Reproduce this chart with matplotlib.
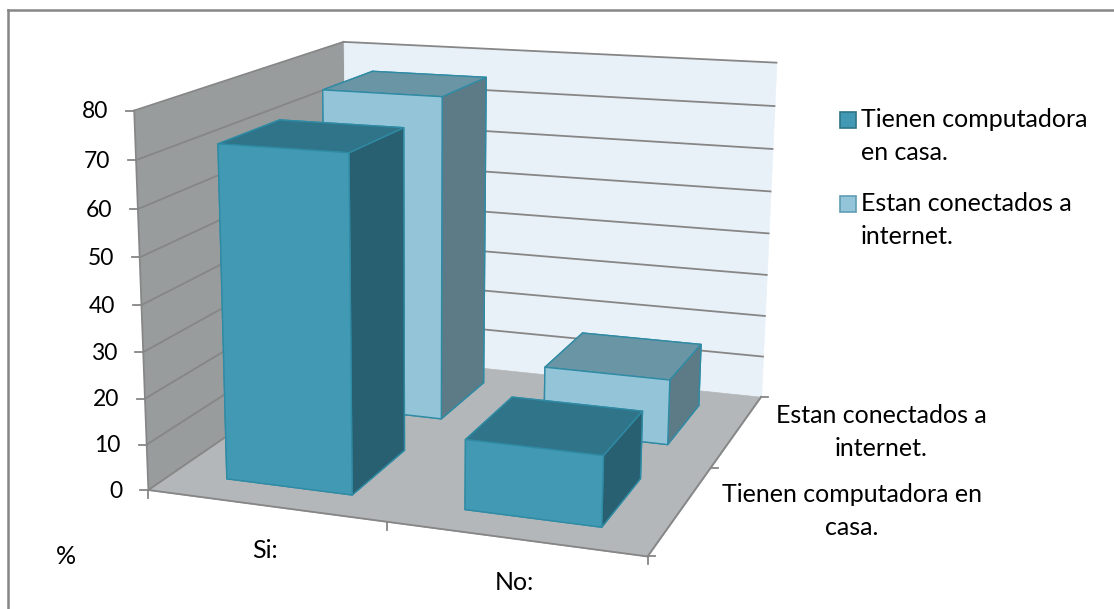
import numpy as np
import matplotlib
matplotlib.use('Agg')
import matplotlib.pyplot as plt
from matplotlib.lines import Line2D
from matplotlib.patches import Rectangle
from mpl_toolkits.mplot3d.art3d import Poly3DCollection

categories = ['Si:', 'No:']
series = ['Tienen computadora\nen casa.', 'Estan conectados a\ninternet.']
depth_labels = ['Tienen computadora en\ncasa.', 'Estan conectados a\ninternet.']
tienen = [72, 15]
estan = [75, 15]
ticks = [0, 10, 20, 30, 40, 50, 60, 70, 80]

W, H = 1114, 609
plt.rcParams['font.family'] = ['Lato', 'DejaVu Sans']
plt.rcParams['font.size'] = 18

# corners of the chart box (x, depth, height) and where they sit in the picture
box = [(0, 0, 0), (2, 0, 0), (2, 2, 0), (0, 2, 0), (0, 0, 80), (0, 2, 80), (2, 2, 80)]
pix = [(150, 490), (647, 557), (762, 396), (345, 354), (133, 110), (345, 42), (776, 63)]

rows = []
for (x, y, z), (u, v) in zip(box, pix):
    rows.append([x, y, z, 1, 0, 0, 0, 0, -u*x, -u*y, -u*z, -u])
    rows.append([0, 0, 0, 0, x, y, z, 1, -v*x, -v*y, -v*z, -v])
cam = np.linalg.svd(np.array(rows))[2][-1].reshape(3, 4)
if cam[2] @ np.array([1, 1, 40, 1]) < 0:
    cam = -cam

fig = plt.figure(figsize=(W/100, H/100), dpi=100)
# axes are forced square, so make it big enough to cover the whole figure
ax = fig.add_axes([0, (1 - W/H)/2, 1, W/H], projection='3d', computed_zorder=False)
ax.set_axis_off()
ax.apply_aspect()


def get_proj():
    inv = ax.transData.inverted().get_matrix()
    flip = np.array([[1, 0, 0], [0, -1, H], [0, 0, 1]])
    p = inv @ flip @ cam
    return np.array([p[0], p[1], [0, 0, 0, -1], p[2]])


ax.get_proj = get_proj


def to_pix(x, y, z):
    p = cam @ np.array([x, y, z, 1])
    return p[0]/p[2], p[1]/p[2]


def label(u, v, s, **kw):
    fig.text(u/W, 1 - v/H, s, color='black', **kw)


def tick(u, v, du, dv):
    fig.add_artist(Line2D([u/W, (u + du)/W], [1 - v/H, 1 - (v + dv)/H], color='#868686', lw=1.3,
                          transform=fig.transFigure))


def wall(corners, color):
    ax.add_collection3d(Poly3DCollection([corners], facecolors=color, edgecolors=color,
                                         linewidths=0.5, zorder=0))


top = ticks[-1]
wall([(0, 0, 0), (0, 2, 0), (0, 2, top), (0, 0, top)], '#989C9D')
wall([(0, 2, 0), (2, 2, 0), (2, 2, top), (0, 2, top)], '#E9F1F8')
wall([(0, 0, 0), (2, 0, 0), (2, 2, 0), (0, 2, 0)], '#B3B7B9')

line = dict(color='#868686', lw=1.3, zorder=1)
for t in ticks:
    if t > 0:
        ax.plot([0, 0], [0, 2], [t, t], **line)
        ax.plot([0, 2], [2, 2], [t, t], **line)
    u, v = to_pix(0, 0, t)
    tick(u, v, -8, 0)
    label(u - 26, v + 1, str(t), ha='right', va='center', fontsize=16.5)
ax.plot([0, 0], [0, 0], [0, top], **line)
ax.plot([0, 0], [0, 2], [0, 0], **line)
ax.plot([0, 2], [0, 0], [0, 0], **line)
ax.plot([2, 2], [0, 2], [0, 0], **line)
for c in range(3):
    u, v = to_pix(c, 0, 0)
    tick(u, v, 0, 8)
    u, v = to_pix(2, c, 0)
    tick(u, v, 7, 0)

bar_w = 0.537
bar_d = 0.56
# order in bar3d is -z +z -y +y -x +x
faces = [
    ['#2F7488', '#2F7488', '#4199B3', '#2F7488', '#286072', '#286072'],
    ['#6A95A5', '#6A95A5', '#93C4D7', '#6A95A5', '#5C7B87', '#5C7B87'],
]

zo = 2
for s, vals in [(1, estan), (0, tienen)]:
    for c, v in enumerate(vals):
        ax.bar3d(c + (1 - bar_w)/2, s + (1 - bar_d)/2, 0, bar_w, bar_d, v,
                 color=faces[s], edgecolor='#2F8BA4', linewidth=1.0,
                 shade=False, zorder=zo)
        zo += 1

label(265, 550, categories[0], ha='center', va='center')
label(514, 583, categories[1], ha='center', va='center')
label(66, 556, '%', ha='center', va='center')
label(881, 432, depth_labels[1], ha='center', va='center', linespacing=1.5)
label(852, 511, depth_labels[0], ha='center', va='center', linespacing=1.5)

fills = ['#4199B3', '#93C4D7']
edges = ['#2F7488', '#5F9EB4']
for i, y0 in enumerate([112, 196]):
    fig.add_artist(Rectangle((840/W, 1 - (y0 + 16)/H), 16/W, 16/H, transform=fig.transFigure,
                             facecolor=fills[i], edgecolor=edges[i], lw=1.2))
    label(861, y0 - 4, series[i], ha='left', va='top', linespacing=1.5)

# chart frame shows only on top and left
frame = dict(color='#868686', lw=1.8, transform=fig.transFigure)
fig.add_artist(Line2D([8/W, 1], [1 - 9.5/H, 1 - 9.5/H], **frame))
fig.add_artist(Line2D([8/W, 8/W], [1 - 9.5/H, 0], **frame))

fig.savefig('out.png', dpi=100)
